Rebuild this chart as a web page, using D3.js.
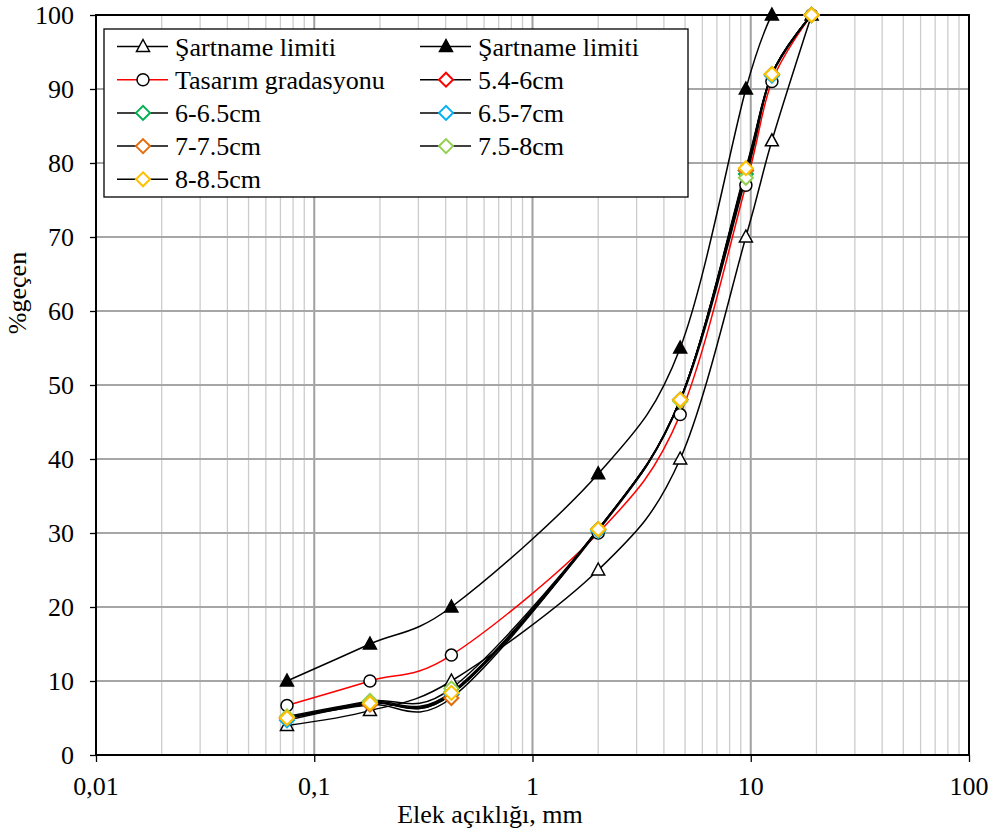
<!DOCTYPE html>
<html><head><meta charset="utf-8">
<script src="https://cdn.jsdelivr.net/npm/d3@7"></script>
<style>body{margin:0;background:#fff;} svg{display:block;}</style>
</head><body><svg id="c" width="993" height="836"></svg>
<script>
const sieves = [0.075, 0.18, 0.425, 2, 4.75, 9.5, 12.5, 19];
const specLower = [4, 6, 10, 25, 40, 70, 83, 100];
const specUpperSieves = [0.075, 0.18, 0.425, 2, 4.75, 9.5, 12.5];
const specUpper = [10, 15, 20, 38, 55, 90, 100];
const design = [6.7, 10, 13.5, 30, 46, 77, 91, 100];
const s54_6 = [5, 7, 8.2, 30.5, 48, 79, 92, 100];
const s6_65 = [5, 7.2, 8.5, 30.5, 48, 78.5, 92, 100];
const s65_7 = [4.7, 7, 8.2, 30.3, 48, 79, 91.8, 100];
const s7_75 = [5, 6.8, 7.7, 30.5, 48, 79, 92, 100];
const s75_8 = [5.2, 7.3, 9, 30.5, 47.8, 78, 92, 100];
const s8_85 = [5, 7, 8.4, 30.5, 48, 79.3, 92, 100];
const xTicks = [0.01, 0.1, 1, 10, 100];
const xTickLabels = ["0,01", "0,1", "1", "10", "100"];
const yTicks = [0,10,20,30,40,50,60,70,80,90,100];

const samples = [
  {name:"5.4-6cm", vals:s54_6, color:"#FF0000"},
  {name:"6-6.5cm", vals:s6_65, color:"#00B050"},
  {name:"6.5-7cm", vals:s65_7, color:"#00B0F0"},
  {name:"7-7.5cm", vals:s7_75, color:"#E46C0A"},
  {name:"7.5-8cm", vals:s75_8, color:"#92D050"},
  {name:"8-8.5cm", vals:s8_85, color:"#FFC000"}
];

const FONT = "Liberation Serif";
const svg = d3.select("#c");
const L=96, R=969, T=15, B=755;
const x = d3.scaleLog().domain([0.01,100]).range([L,R]);
const y = d3.scaleLinear().domain([0,100]).range([B,T]);

// grid
const minor = [];
for (let d=0.01; d<100; d*=10) for (let k=2;k<=9;k++) minor.push(+(d*k).toPrecision(3));
svg.append("g").selectAll("line").data(minor).join("line")
  .attr("x1",d=>x(d)).attr("x2",d=>x(d)).attr("y1",T).attr("y2",B)
  .attr("stroke","#cccccc").attr("stroke-width",1.3);
svg.append("g").selectAll("line").data(xTicks.slice(1,-1)).join("line")
  .attr("x1",d=>x(d)).attr("x2",d=>x(d)).attr("y1",T).attr("y2",B)
  .attr("stroke","#a0a0a0").attr("stroke-width",2);
svg.append("g").selectAll("line").data(yTicks.slice(1,-1)).join("line")
  .attr("x1",L).attr("x2",R).attr("y1",d=>y(d)).attr("y2",d=>y(d))
  .attr("stroke","#a6a6a6").attr("stroke-width",1.8);

// axes (tick marks from d3 axes; labels placed from the same scales)
const gx = svg.append("g").attr("transform",`translate(0,${B})`)
  .call(d3.axisBottom(x).tickValues(xTicks).tickFormat("").tickSize(7));
gx.select(".domain").remove();
gx.selectAll("line").attr("stroke","#000").attr("stroke-width",1.3);
const gy = svg.append("g").attr("transform",`translate(${L},0)`)
  .call(d3.axisLeft(y).tickValues(yTicks).tickFormat("").tickSize(6));
gy.select(".domain").remove();
gy.selectAll("line").attr("stroke","#000").attr("stroke-width",1.3);

xTicks.forEach((v,i)=>svg.append("text").attr("x",x(v)).attr("y",795)
  .attr("text-anchor","middle").attr("font-size",26).text(xTickLabels[i]));
yTicks.forEach(v=>svg.append("text").attr("x",L-22).attr("y",y(v)+8.5)
  .attr("text-anchor","end").attr("font-size",26).text(String(v)));

svg.append("rect").attr("x",L).attr("y",T).attr("width",R-L).attr("height",B-T)
  .attr("fill","none").attr("stroke","#000").attr("stroke-width",2);

const line = d3.line().curve(d3.curveCatmullRom.alpha(0));
function path(xs, ys, color, w){
  svg.append("path").attr("d", line(xs.map((v,i)=>[x(v), y(ys[i])])))
    .attr("fill","none").attr("stroke",color).attr("stroke-width",w);
}
function tri(g, cx, cy, filled){
  g.append("path").attr("d",`M${cx},${cy-7}L${cx+6.5},${cy+5}L${cx-6.5},${cy+5}Z`)
   .attr("fill",filled?"#000":"#fff").attr("stroke","#000").attr("stroke-width",1.5);
}
function circ(g,cx,cy){ g.append("circle").attr("cx",cx).attr("cy",cy).attr("r",6).attr("fill","#fff").attr("stroke","#000").attr("stroke-width",1.5); }
function dia(g,cx,cy,color){ g.append("path").attr("d",`M${cx},${cy-7}L${cx+7},${cy}L${cx},${cy+7}L${cx-7},${cy}Z`).attr("fill","#fff").attr("stroke",color).attr("stroke-width",2); }

path(sieves, specLower, "#000", 1.5);
path(specUpperSieves, specUpper, "#000", 1.5);
path(sieves, design, "#FF0000", 1.5);
samples.forEach(s=>path(sieves, s.vals, "#000", 1.5));

sieves.forEach((v,i)=>tri(svg, x(v), y(specLower[i]), false));
specUpperSieves.forEach((v,i)=>tri(svg, x(v), y(specUpper[i]), true));
sieves.forEach((v,i)=>circ(svg, x(v), y(design[i])));
samples.forEach(s=>sieves.forEach((v,i)=>dia(svg, x(v), y(s.vals[i]), s.color)));

// legend
svg.append("rect").attr("x",104).attr("y",29).attr("width",584).attr("height",168)
  .attr("fill","#fff").attr("stroke","#000").attr("stroke-width",1.3);
const entries = [
  {name:"Şartname limiti", line:"#000", m:"triO"},
  {name:"Şartname limiti", line:"#000", m:"triF"},
  {name:"Tasarım gradasyonu", line:"#FF0000", m:"circ"}
].concat(samples.map(s=>({name:s.name, line:"#000", m:"dia", color:s.color})));
entries.forEach((e,i)=>{
  const col=i%2, row=Math.floor(i/2);
  const lx = col===0?117:420, ly = 46.5+row*33.2;
  svg.append("line").attr("x1",lx).attr("x2",lx+51).attr("y1",ly).attr("y2",ly).attr("stroke",e.line).attr("stroke-width",1.5);
  const cx=lx+26;
  if(e.m==="triO") tri(svg,cx,ly,false);
  else if(e.m==="triF") tri(svg,cx,ly,true);
  else if(e.m==="circ") circ(svg,cx,ly);
  else dia(svg,cx,ly,e.color);
  svg.append("text").attr("x",lx+58).attr("y",ly+9).attr("font-size",26).text(e.name);
});

// titles
svg.append("text").attr("x",490).attr("y",823).attr("text-anchor","middle").attr("font-size",26).text("Elek açıklığı, mm");
svg.append("text").attr("transform","translate(26,293) rotate(-90)").attr("text-anchor","middle").attr("font-size",26).text("%geçen");
svg.selectAll("text").attr("font-family",FONT).attr("fill","#000");
</script></body></html>
